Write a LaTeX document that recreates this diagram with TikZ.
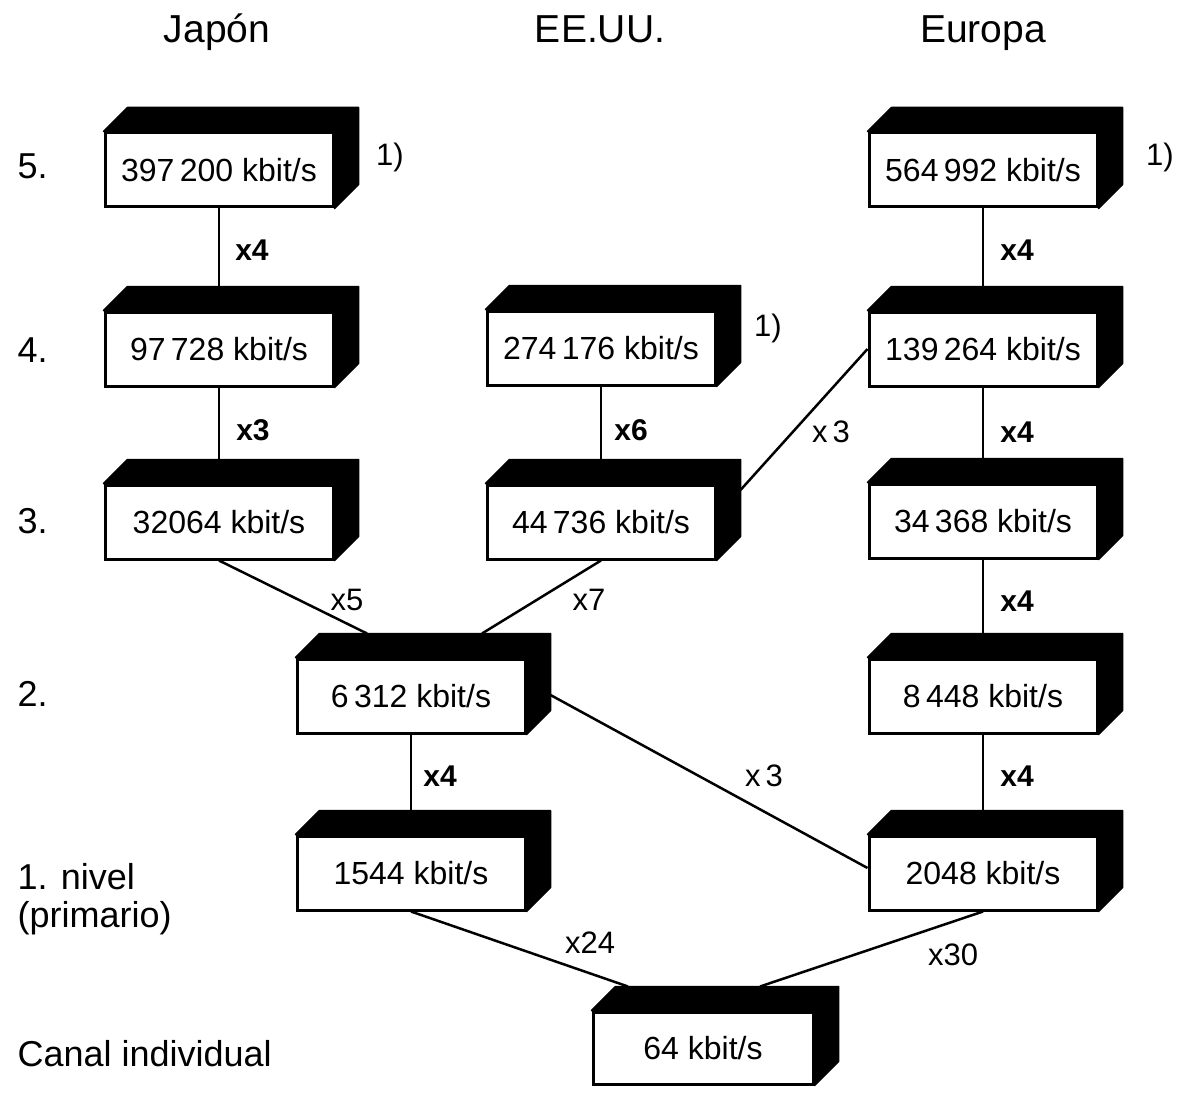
\documentclass[tikz,border=0pt]{standalone}
\usepackage{fontspec}
\setmainfont{Liberation Sans}
\usetikzlibrary{calc,backgrounds}
\begin{document}
\begin{tikzpicture}[x=1pt,y=-1pt,
  rate/.style={draw,line width=3pt,fill=white,minimum width=228pt,
    minimum height=74pt,inner sep=0pt,font=\fontsize{32}{36}\selectfont},
  link/.style={line width=2.5pt},
  fac/.style={font=\fontsize{31}{34}\selectfont},
  facb/.style={font=\fontsize{30}{34}\selectfont\bfseries},
  head/.style={font=\fontsize{39}{44}\selectfont,anchor=base},
  lvl/.style={font=\fontsize{36}{38}\selectfont,anchor=west,align=left}]
\useasboundingbox (0,0) rectangle (1180,1094);

% column headings
\node[head] (hJ) at (217,43) {Japón};
\node[head] (hU) at (600,43) {EE.UU.};
\node[head] (hE) at (983,43) {Europa};

% hierarchy levels
\node[lvl] (l5) at (14,166) {5.};
\node[lvl] (l4) at (14,350) {4.};
\node[lvl] (l3) at (14,521) {3.};
\node[lvl] (l2) at (14,694) {2.};
\node[lvl] (l1) at (14,899) {1. nivel\\(primario)};
\node[lvl] (l0) at (14,1054) {Canal individual};

% multiplex rates (front faces)
\node[rate] (J5) at (219,170) {397\,200 kbit/s};
\node[rate] (J4) at (219,349) {97\,728 kbit/s};
\node[rate] (J3) at (219,522) {32064 kbit/s};
\node[rate] (U4) at (601,348) {274\,176 kbit/s};
\node[rate] (U3) at (601,522) {44\,736 kbit/s};
\node[rate] (U2) at (411,696) {6\,312 kbit/s};
\node[rate] (U1) at (411,873) {1544 kbit/s};
\node[rate] (E5) at (983,170) {564\,992 kbit/s};
\node[rate] (E4) at (983,349) {139\,264 kbit/s};
\node[rate] (E3) at (983,521) {34\,368 kbit/s};
\node[rate] (E2) at (983,696) {8\,448 kbit/s};
\node[rate] (E1) at (983,873) {2048 kbit/s};
\node[rate,minimum width=220pt,minimum height=72pt] (C0) at (703,1048) {64 kbit/s};

% dark top and side faces of every block
\foreach \b in {J5,J4,J3,U4,U3,U2,U1,E5,E4,E3,E2,E1,C0}{
  \filldraw[line width=1.5pt,line join=round]
    (\b.north west) -- ++(24,-24) -- ($(\b.north east)+(24,-24)$)
    -- ($(\b.south east)+(24,-24)$) -- (\b.south east) -- (\b.north east) -- cycle;
}

% connectors between levels
\begin{scope}[on background layer]
  \draw[link] (J5.south) -- (J4.north);
  \draw[link] (J4.south) -- (J3.north);
  \draw[link] (U4.south) -- (U3.north);
  \draw[link] (E5.south) -- (E4.north);
  \draw[link] (E4.south) -- (E3.north);
  \draw[link] (E3.south) -- (E2.north);
  \draw[link] (E2.south) -- (E1.north);
  \draw[link] (U2.south) -- (U1.north);
  \draw[link] (J3.south) -- ($(U2.north)+(-44,-24)$);
  \draw[link] (U3.south) -- ($(U2.north)+(71,-24)$);
  \draw[link] ($(U3.east)+(24,-32)$) -- (E4.west);
  \draw[link] ($(U2.east)+(24,-1)$) -- ($(E1.west)+(0,-5)$);
  \draw[link] (U1.south) -- ($(C0.north)+(-75,-24)$);
  \draw[link] (E1.south) -- ($(C0.north)+(57,-24)$);
\end{scope}

% multiplexing factors
\node[facb] (f1) at (252,250) {x4};
\node[facb] (f2) at (253,430) {x3};
\node[facb] (f3) at (631,430) {x6};
\node[facb] (f4) at (1017,250) {x4};
\node[facb] (f5) at (1017,432) {x4};
\node[facb] (f6) at (1017,601) {x4};
\node[facb] (f7) at (1017,776) {x4};
\node[facb] (f8) at (440,776) {x4};
\node[fac] (f9) at (347,600) {x5};
\node[fac] (f10) at (589,600) {x7};
\node[fac] (f11) at (831,432) {x\,3};
\node[fac] (f12) at (764,776) {x\,3};
\node[fac] (f13) at (590,943) {x24};
\node[fac] (f14) at (953,955) {x30};

% footnote marks
\node[fac] (n1) at (390,157) {1)};
\node[fac] (n2) at (768,328) {1)};
\node[fac] (n3) at (1160,157) {1)};
\end{tikzpicture}
\end{document}
